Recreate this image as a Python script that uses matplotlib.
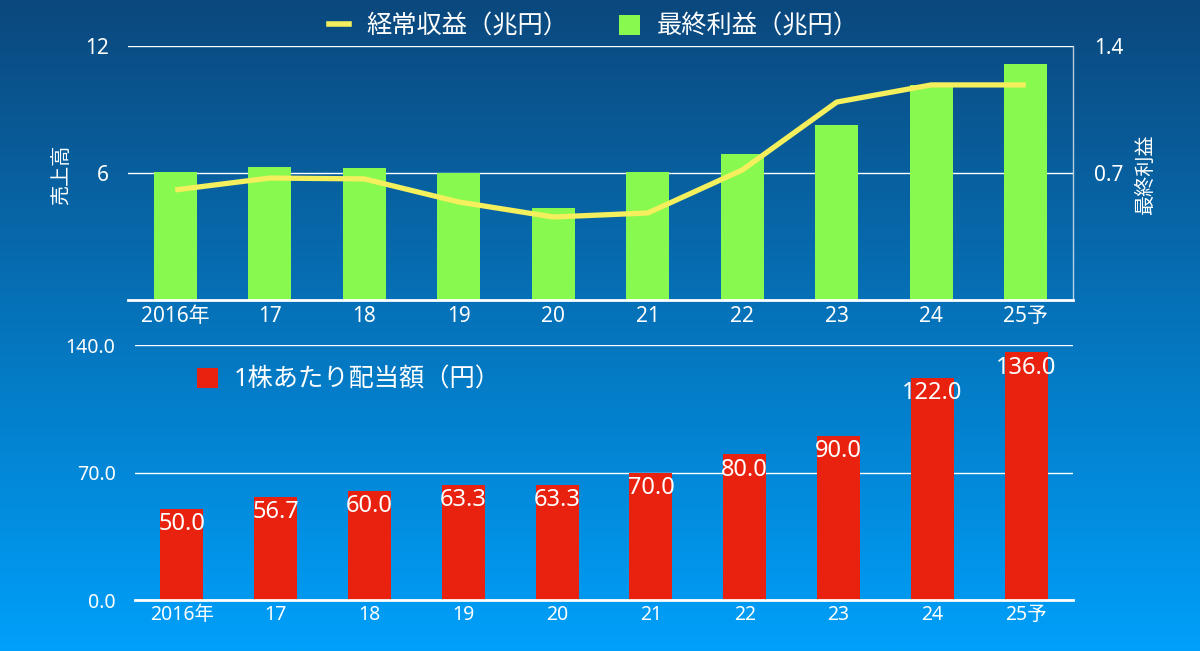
import numpy as np
import matplotlib
matplotlib.use("Agg")
import matplotlib.pyplot as plt
from matplotlib.patches import Patch
from matplotlib.lines import Line2D

plt.rcParams['font.family'] = ['Noto Sans', 'Noto Sans CJK JP', 'DejaVu Sans']

categories = ['2016年', '17', '18', '19', '20', '21', '22', '23', '24', '25予']
ordinary_income = [5.2, 5.76, 5.72, 4.63, 3.92, 4.11, 6.14, 9.35, 10.16, 10.16]
net_income = [0.705, 0.733, 0.727, 0.70, 0.507, 0.705, 0.805, 0.965, 1.185, 1.30]
dividend = [50.0, 56.7, 60.0, 63.3, 63.3, 70.0, 80.0, 90.0, 122.0, 136.0]

left_ticks = [6, 12]
right_ticks = [0.7, 1.4]
div_ticks = [0.0, 70.0, 140.0]

GREEN = '#88f94f'
YELLOW = '#f4ef5c'
RED = '#e8220e'
WHITE = 'white'
GRID = (1, 1, 1, 0.5)

fig = plt.figure(figsize=(12, 6.51), dpi=100)

# background gradient
bg = fig.add_axes([0, 0, 1, 1], zorder=-10)
top_c = np.array([11, 72, 125]) / 255
bot_c = np.array([0, 160, 250]) / 255
t = np.linspace(0, 1, 256)[:, None]
grad = top_c[None, :] * (1 - t) + bot_c[None, :] * t
bg.imshow(grad[:, None, :].repeat(2, axis=1), aspect='auto', extent=[0, 1, 0, 1])
bg.axis('off')

x = np.arange(len(categories))

# ---- top chart ----
ax = fig.add_axes([0.1067, 0.5392, 0.7875, 0.3902])
ax.set_facecolor('none')
ax.bar(x, net_income, width=0.455, color=GREEN, zorder=2)
ax.set_ylim(0, 1.4)
ax.set_xlim(-0.5, len(categories) - 0.5)
ax.grid(axis='y', color=GRID, linewidth=1, zorder=0)
ax.set_xticks(x)
ax.set_xticklabels(categories)

ax2 = ax.twinx()
ax2.plot(x, ordinary_income, color=YELLOW, linewidth=3.8, solid_capstyle='butt', zorder=3)
ax2.set_ylim(0, 12)
ax2.set_yticks(left_ticks)
ax2.set_yticklabels([str(v) for v in left_ticks])
ax2.yaxis.tick_left()
ax2.tick_params(axis='y', length=0, colors=WHITE, labelsize=15, pad=14)
for s in ax2.spines.values():
    s.set_visible(False)

ax.set_yticks(right_ticks)
ax.set_yticklabels([f'{v:.1f}' for v in right_ticks])
ax.yaxis.tick_right()
ax.tick_params(axis='both', length=0, colors=WHITE, labelsize=15)
ax.tick_params(axis='y', pad=15)
ax.tick_params(axis='x', pad=4)
for s in ['top', 'left']:
    ax.spines[s].set_visible(False)
ax.spines['bottom'].set_color(WHITE)
ax.spines['bottom'].set_linewidth(2)
ax.spines['right'].set_visible(True)
ax.spines['right'].set_color((1, 1, 1, 0.7))
ax.spines['right'].set_linewidth(1)

fig.text(62 / 1200, 1 - 175 / 651, '売上高', color=WHITE, fontsize=14.5,
         rotation=90, ha='center', va='center')
fig.text(1146 / 1200, 1 - 175 / 651, '最終利益', color=WHITE, fontsize=14.5,
         rotation=90, ha='center', va='center')

handles_top = [Line2D([0], [0], color=YELLOW, linewidth=4),
               Patch(facecolor=GREEN)]
fig.legend(handles_top, ['経常収益（兆円）', '最終利益（兆円）'],
           loc='center', bbox_to_anchor=(594 / 1200, 1 - 27 / 651), ncol=2,
           frameon=False, fontsize=18.2, labelcolor=WHITE,
           handlelength=0.8, handleheight=0.85, columnspacing=2.0, handletextpad=0.7)

# ---- bottom chart ----
bx = fig.add_axes([0.1125, 0.0783, 0.7817, 0.3917])
bx.set_facecolor('none')
bx.bar(x, dividend, width=0.46, color=RED, zorder=2)
bx.set_ylim(0, 140)
bx.set_xlim(-0.5, len(categories) - 0.5)
bx.set_yticks(div_ticks)
bx.set_yticklabels([f'{v:.1f}' for v in div_ticks])
bx.grid(axis='y', color=GRID, linewidth=1, zorder=0)
bx.set_xticks(x)
bx.set_xticklabels(categories)
bx.tick_params(axis='both', length=0, colors=WHITE, labelsize=14)
bx.tick_params(axis='y', pad=14)
for s in ['top', 'left', 'right']:
    bx.spines[s].set_visible(False)
bx.spines['bottom'].set_color(WHITE)
bx.spines['bottom'].set_linewidth(2)
for xi, v in zip(x, dividend):
    bx.annotate(f'{v:.1f}', xy=(xi, v), xytext=(0, -11), textcoords='offset points',
                ha='center', va='center', color=WHITE, fontsize=17, zorder=4)

fig.legend([Patch(facecolor=RED)], ['1株あたり配当額（円）'],
           loc='center left', bbox_to_anchor=(174 / 1200, 1 - 380 / 651),
           frameon=False, fontsize=18.2, labelcolor=WHITE,
           handlelength=0.85, handleheight=0.85, handletextpad=0.6)

fig.savefig('out.png', dpi=100)
